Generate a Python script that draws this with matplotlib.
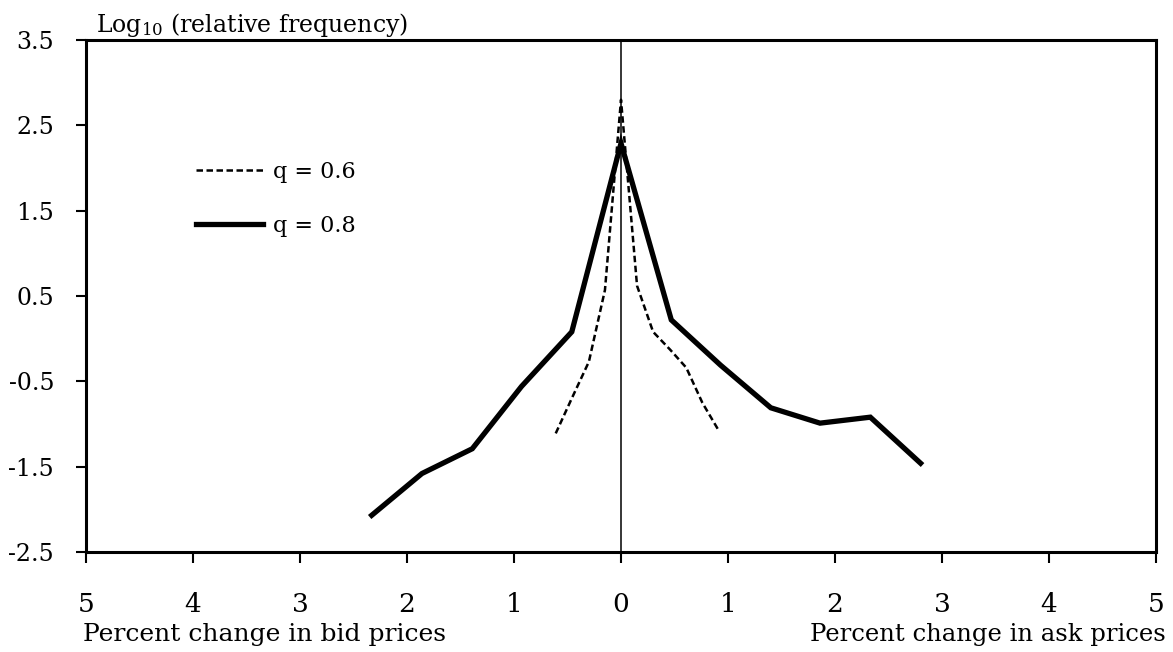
import matplotlib
matplotlib.use("Agg")
import matplotlib.pyplot as plt
from matplotlib.ticker import FuncFormatter, FixedLocator

plt.rcParams["font.family"] = ["DejaVu Serif"]
plt.rcParams["mathtext.fontset"] = "dejavuserif"

# Percent price change: negative = bid side, positive = ask side
x_q06 = [-0.61, -0.46, -0.30, -0.15, 0.0, 0.15, 0.30, 0.46, 0.61, 0.76, 0.91]
y_q06 = [-1.11, -0.70, -0.27, 0.57, 2.80, 0.62, 0.08, -0.13, -0.34, -0.75, -1.07]

x_q08 = [-2.33, -1.86, -1.39, -0.93, -0.46, 0.0, 0.47, 0.93, 1.40, 1.86, 2.33, 2.80]
y_q08 = [-2.07, -1.58, -1.29, -0.56, 0.08, 2.29, 0.22, -0.31, -0.81, -0.99, -0.92, -1.46]

labels = ["q = 0.6", "q = 0.8"]
x_ticks = [-5, -4, -3, -2, -1, 0, 1, 2, 3, 4, 5]
y_ticks = [-2.5, -1.5, -0.5, 0.5, 1.5, 2.5, 3.5]

fig = plt.figure(figsize=(11.73, 6.52), dpi=100)
ax = fig.add_axes([86 / 1173, 1 - 552 / 652, 1070 / 1173, 512 / 652])

ax.axvline(0, color="black", lw=1.1, zorder=1)
ax.plot(x_q06, y_q06, color="black", lw=1.8, dashes=(2.6, 1.4), label=labels[0], zorder=3)
ax.plot(x_q08, y_q08, color="black", lw=3.8, solid_joinstyle="miter", label=labels[1], zorder=2)

ax.set_xlim(-5, 5)
ax.set_ylim(-2.5, 3.5)
ax.xaxis.set_major_locator(FixedLocator(x_ticks))
ax.yaxis.set_major_locator(FixedLocator(y_ticks))
ax.xaxis.set_major_formatter(FuncFormatter(lambda v, p: f"{abs(v):.0f}"))
ax.yaxis.set_major_formatter(FuncFormatter(lambda v, p: f"{v:.1f}"))

for s in ax.spines.values():
    s.set_linewidth(2.2)
ax.tick_params(axis="x", direction="out", length=8, width=1.5, pad=21, labelsize=19)
ax.tick_params(axis="y", direction="out", length=7, width=1.5, pad=16, labelsize=17)

leg = ax.legend(loc="upper left", bbox_to_anchor=(0.103, 0.764), frameon=False,
                borderpad=0, borderaxespad=0, handlelength=3.0, handletextpad=0.45,
                labelspacing=1.45, fontsize=16)

fig.text(96 / 1173, 1 - 32 / 652, r"Log$_{10}$ (relative frequency)", fontsize=17,
         ha="left", va="baseline")
fig.text(83 / 1173, 1 - 641 / 652, "Percent change in bid prices", fontsize=18,
         ha="left", va="baseline")
fig.text(1166 / 1173, 1 - 641 / 652, "Percent change in ask prices", fontsize=17.5,
         ha="right", va="baseline")

fig.savefig("out.png", dpi=100)
